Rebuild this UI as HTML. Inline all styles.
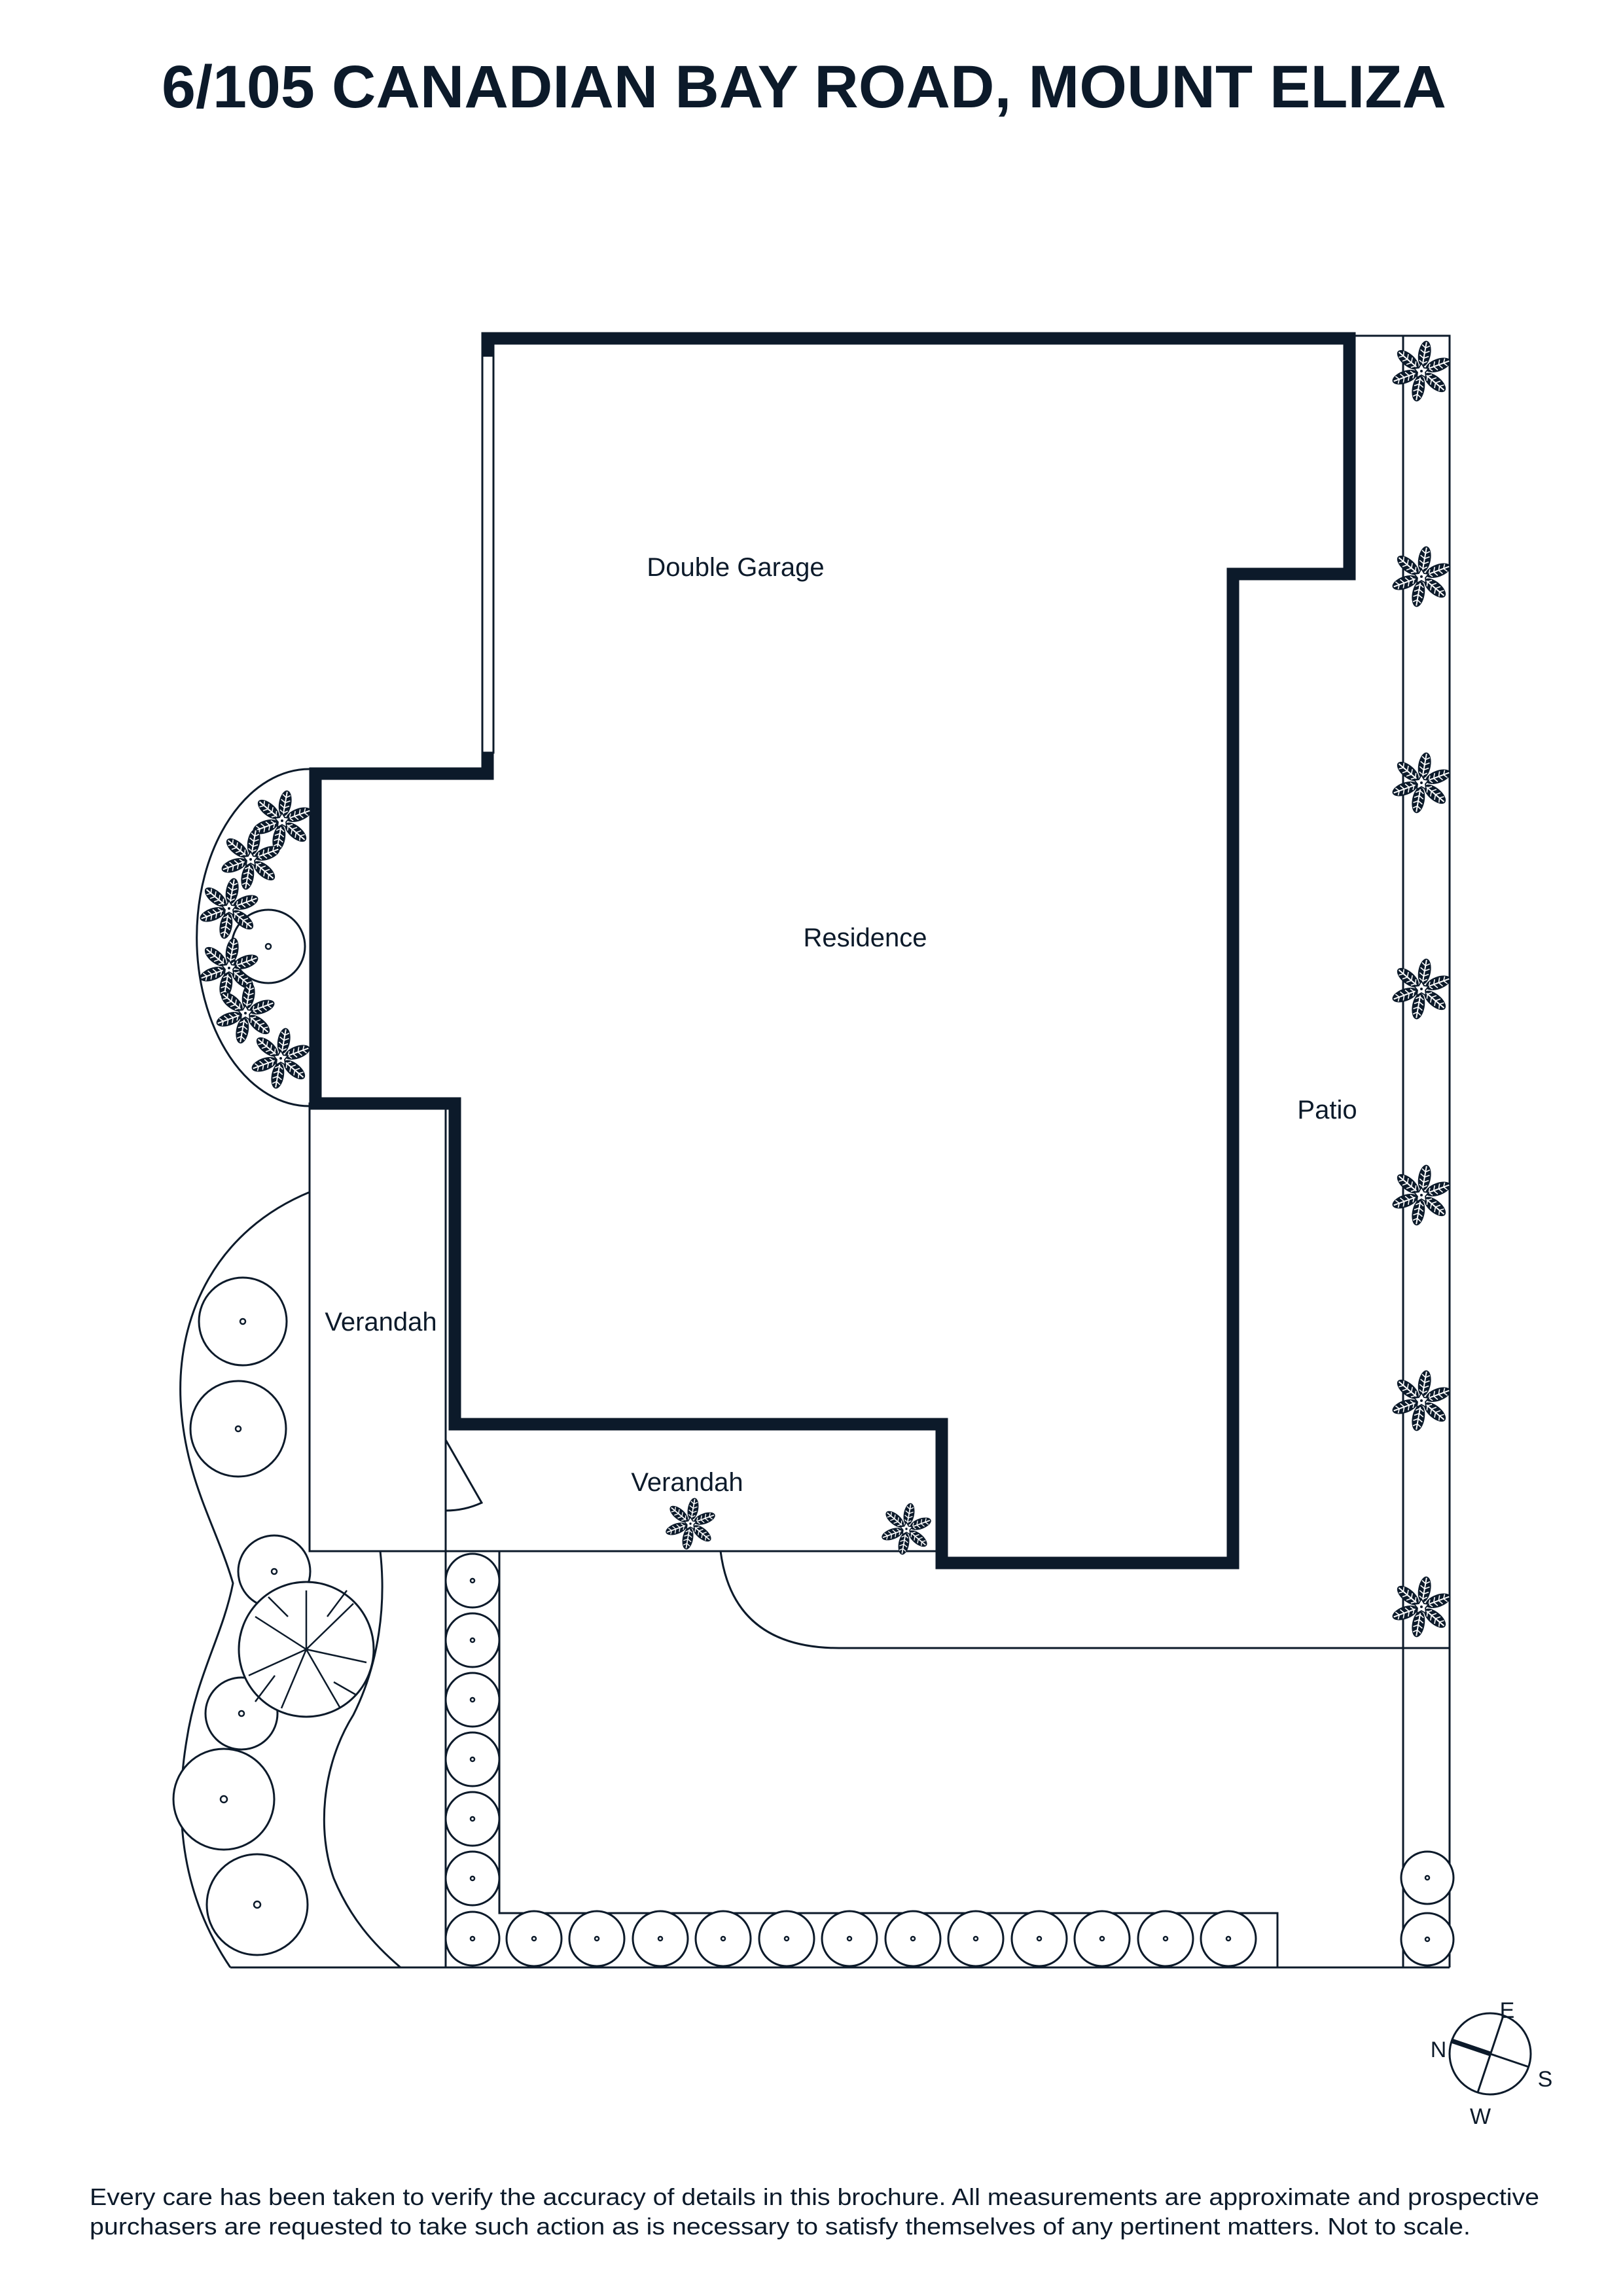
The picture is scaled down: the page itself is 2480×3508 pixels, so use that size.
<!DOCTYPE html>
<html><head><meta charset="utf-8">
<style>
html,body{margin:0;padding:0;background:#fff;}
svg{display:block;}
text{font-family:"Liberation Sans",sans-serif;fill:#0c1a2a;}
</style></head>
<body>
<svg width="2480" height="3508" viewBox="0 0 2480 3508" xmlns="http://www.w3.org/2000/svg">
<defs>
  <g id="pet">
    <ellipse cx="0" cy="-27" rx="9.5" ry="20" fill="#0c1a2a"/>
    <line x1="0" y1="-45" x2="0" y2="-10" stroke="#fff" stroke-width="2"/>
    <path d="M-6,-40 L0,-36 L6,-40 M-7,-32 L0,-28 L7,-32 M-7,-24 L0,-20 L7,-24 M-6,-16 L0,-12 L6,-16" stroke="#fff" stroke-width="1.6" fill="none"/>
  </g>
  <g id="st">
    <use href="#pet" transform="rotate(10)"/>
    <use href="#pet" transform="rotate(70)"/>
    <use href="#pet" transform="rotate(130)"/>
    <use href="#pet" transform="rotate(190)"/>
    <use href="#pet" transform="rotate(250)"/>
    <use href="#pet" transform="rotate(310)"/>
    <polygon points="0,-12 4,-5 11,-4 6,2 7,10 0,6 -7,10 -6,2 -11,-4 -4,-5" fill="#fff" stroke="#0c1a2a" stroke-width="1.8"/>
    <circle r="2" fill="#0c1a2a"/>
  </g>
</defs>

<text x="247" y="164" font-size="92" font-weight="bold" textLength="1963" lengthAdjust="spacingAndGlyphs">6/105 CANADIAN BAY ROAD, MOUNT ELIZA</text>

<g fill="none" stroke="#0c1a2a" stroke-width="3">
  <polyline points="2062,513 2215,513 2215,3006"/>
  <line x1="2144" y1="513" x2="2144" y2="3006"/>
  <path d="M1101,2370 Q1120,2518 1282,2518 L2215,2518"/>
  <rect x="737" y="526" width="17" height="624"/>
  <rect x="473" y="1686" width="208" height="684"/>
  <line x1="681" y1="2370" x2="1439" y2="2370"/>
  <path d="M681,2200 L736,2296 Q710,2308 681,2308"/>
  <line x1="681" y1="2370" x2="681" y2="3006"/>
  <line x1="352" y1="3006" x2="2215" y2="3006"/>
  <polyline points="763,2370 763,2923 1952,2923 1952,3006"/>
  <path d="M473,1175 A172,257 0 0 0 473,1690"/>
  <path d="M474,1821 C330,1880 270,2010 276,2140 C282,2260 330,2330 356,2419 C340,2500 300,2560 285,2660 C265,2780 280,2900 352,3006"/>
  <path d="M581,2370 C590,2450 580,2540 540,2620 C490,2700 485,2800 510,2870 C535,2930 570,2970 612,3006"/>
</g>

<!-- building walls -->
<path d="M745,545 L745,517 L2062,517 L2062,877 L1884,877 L1884,2388 L1439,2388 L1439,2176 L695,2176 L695,1686 L482,1686 L482,1182 L745,1182 L745,1150" fill="none" stroke="#0c1a2a" stroke-width="19" stroke-linejoin="miter"/>

<g fill="#fff" stroke="#0c1a2a" stroke-width="3">
  <circle cx="410" cy="1446" r="56"/>
  <circle cx="371" cy="2019" r="67"/>
  <circle cx="364" cy="2183" r="73"/>
  <circle cx="419" cy="2401" r="55"/>
  <circle cx="369" cy="2618" r="55"/>
  <circle cx="342" cy="2749" r="77"/>
  <circle cx="393" cy="2910" r="77"/>
  <circle cx="468" cy="2520" r="103"/>
  <circle cx="722" cy="2415" r="41"/>
  <circle cx="722" cy="2506" r="41"/>
  <circle cx="722" cy="2597" r="41"/>
  <circle cx="722" cy="2688" r="41"/>
  <circle cx="722" cy="2779" r="41"/>
  <circle cx="722" cy="2870" r="41"/>
  <circle cx="722" cy="2962" r="41"/>
  <circle cx="816" cy="2962" r="42"/>
  <circle cx="912" cy="2962" r="42"/>
  <circle cx="1009" cy="2962" r="42"/>
  <circle cx="1105" cy="2962" r="42"/>
  <circle cx="1202" cy="2962" r="42"/>
  <circle cx="1298" cy="2962" r="42"/>
  <circle cx="1395" cy="2962" r="42"/>
  <circle cx="1491" cy="2962" r="42"/>
  <circle cx="1588" cy="2962" r="42"/>
  <circle cx="1684" cy="2962" r="42"/>
  <circle cx="1781" cy="2962" r="42"/>
  <circle cx="1877" cy="2962" r="42"/>
  <circle cx="2181" cy="2869" r="40"/>
  <circle cx="2181" cy="2963" r="40"/>
</g>
<g fill="none" stroke="#0c1a2a" stroke-width="2.5">
  <circle cx="410" cy="1446" r="4"/><circle cx="371" cy="2019" r="4"/><circle cx="364" cy="2183" r="4"/>
  <circle cx="419" cy="2401" r="4"/><circle cx="369" cy="2618" r="4"/><circle cx="342" cy="2749" r="5"/><circle cx="393" cy="2910" r="5"/>
  <circle cx="722" cy="2415" r="3"/><circle cx="722" cy="2506" r="3"/><circle cx="722" cy="2597" r="3"/><circle cx="722" cy="2688" r="3"/><circle cx="722" cy="2779" r="3"/><circle cx="722" cy="2870" r="3"/><circle cx="722" cy="2962" r="3"/>
  <circle cx="816" cy="2962" r="3"/><circle cx="912" cy="2962" r="3"/><circle cx="1009" cy="2962" r="3"/><circle cx="1105" cy="2962" r="3"/><circle cx="1202" cy="2962" r="3"/><circle cx="1298" cy="2962" r="3"/><circle cx="1395" cy="2962" r="3"/><circle cx="1491" cy="2962" r="3"/><circle cx="1588" cy="2962" r="3"/><circle cx="1684" cy="2962" r="3"/><circle cx="1781" cy="2962" r="3"/><circle cx="1877" cy="2962" r="3"/>
  <circle cx="2181" cy="2869" r="3"/><circle cx="2181" cy="2963" r="3"/>
  <path d="M468,2520 L468,2430 M468,2520 L390,2470 M468,2520 L380,2560 M468,2520 L430,2610 M468,2520 L520,2610 M468,2520 L560,2540 M468,2520 L540,2450 M440,2470 L410,2440 M500,2470 L530,2430 M420,2560 L390,2600 M510,2570 L545,2590"/>
</g>

<g>
  <use href="#st" transform="translate(431,1254)"/>
  <use href="#st" transform="translate(383,1313)"/>
  <use href="#st" transform="translate(350,1388)"/>
  <use href="#st" transform="translate(350,1479)"/>
  <use href="#st" transform="translate(375,1548)"/>
  <use href="#st" transform="translate(429,1617)"/>
  <use href="#st" transform="translate(2172,567)"/>
  <use href="#st" transform="translate(2172,881)"/>
  <use href="#st" transform="translate(2172,1196)"/>
  <use href="#st" transform="translate(2172,1511)"/>
  <use href="#st" transform="translate(2172,1826)"/>
  <use href="#st" transform="translate(2172,2140)"/>
  <use href="#st" transform="translate(2172,2455)"/>
  <use href="#st" transform="translate(1055,2328) scale(0.85)"/>
  <use href="#st" transform="translate(1385,2336) scale(0.85)"/>
</g>

<g font-size="40" text-anchor="middle">
  <text x="1124" y="880">Double Garage</text>
  <text x="1322" y="1446">Residence</text>
  <text x="2028" y="1709">Patio</text>
  <text x="582" y="2033">Verandah</text>
  <text x="1050" y="2278">Verandah</text>
</g>

<g stroke="#0c1a2a" fill="none">
  <circle cx="2277" cy="3138" r="62" stroke-width="3"/>
  <line x1="2297" y1="3080" x2="2258" y2="3197" stroke-width="3"/>
  <line x1="2277" y1="3138" x2="2336" y2="3158" stroke-width="3"/>
  <line x1="2218" y1="3118" x2="2277" y2="3138" stroke-width="7"/>
</g>
<g font-size="34" text-anchor="middle">
  <text x="2303" y="3083">E</text>
  <text x="2198" y="3143">N</text>
  <text x="2361" y="3188">S</text>
  <text x="2262" y="3245">W</text>
</g>

<text x="137" y="3369" font-size="36" textLength="2215" lengthAdjust="spacingAndGlyphs">Every care has been taken to verify the accuracy of details in this brochure. All measurements are approximate and prospective</text>
<text x="137" y="3414" font-size="36" textLength="2110" lengthAdjust="spacingAndGlyphs">purchasers are requested to take such action as is necessary to satisfy themselves of any pertinent matters. Not to scale.</text>
</svg>
</body></html>
